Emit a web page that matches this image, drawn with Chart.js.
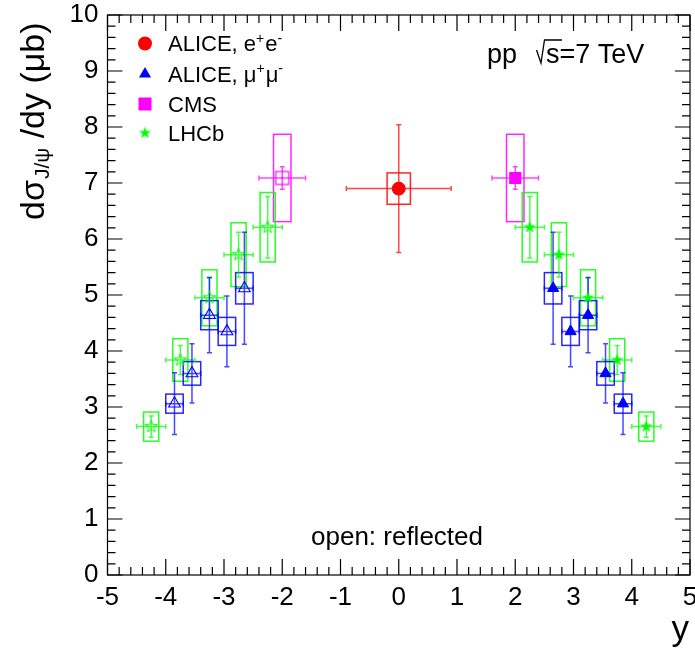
<!DOCTYPE html>
<html>
<head>
<meta charset="utf-8">
<script src="https://cdn.jsdelivr.net/npm/chart.js@4"></script>
<style>
html, body { margin: 0; padding: 0; background: #fff; }
#wrap { width: 695px; height: 652px; position: relative; }
</style>
</head>
<body>
<div id="wrap"><canvas id="jpsiChart"></canvas></div>
<script>
// values: rapidity, dsigma/dy (mub), stat, syst, half bin width
var aliceEeY = [0];
var aliceEeVal = [6.9];
var aliceEeStat = [1.14];
var aliceEeSyst = [0.28];
var aliceEeDy = [0.9];

var aliceMuY = [2.65, 2.95, 3.25, 3.55, 3.85];
var aliceMuVal = [5.12, 4.35, 4.64, 3.60, 3.06];
var aliceMuStat = [1.00, 0.63, 0.67, 0.53, 0.55];
var aliceMuSyst = [0.28, 0.25, 0.26, 0.21, 0.17];
var aliceMuDy = [0.15, 0.15, 0.15, 0.15, 0.15];

var cmsY = [2.0];
var cmsVal = [7.09];
var cmsStat = [0.20];
var cmsSyst = [0.78];
var cmsDy = [0.4];

var lhcbY = [2.25, 2.75, 3.25, 3.75, 4.25];
var lhcbVal = [6.21, 5.72, 4.95, 3.84, 2.65];
var lhcbStat = [0.55, 0.40, 0.37, 0.26, 0.19];
var lhcbSyst = [0.62, 0.57, 0.50, 0.38, 0.26];
var lhcbDy = [0.25, 0.25, 0.25, 0.25, 0.25];

var xTickLabels = [-5, -4, -3, -2, -1, 0, 1, 2, 3, 4, 5];
var yTickLabels = [0, 1, 2, 3, 4, 5, 6, 7, 8, 9, 10];

var FONT = '"Liberation Sans", Arial, sans-serif';
var RED = '255,0,0', BLUE = '0,0,255', MAG = '255,0,255', GREEN = '0,255,0';

function rgba(c, a) { return 'rgba(' + c + ',' + a + ')'; }

function pts(xs, vals, sign) {
    return xs.map(function (x, i) { return { x: sign * x, y: vals[i] }; });
}

// 5 point star marker as a small canvas
function starImage(c, filled, R) {
    var cv = document.createElement('canvas');
    var s = Math.ceil(R * 2 + 4);
    cv.width = s; cv.height = s;
    var g = cv.getContext('2d');
    var r = R * 0.4;
    g.beginPath();
    for (var k = 0; k < 10; k++) {
        var rad = k % 2 ? r : R;
        var a = -Math.PI / 2 + k * Math.PI / 5;
        var px = s / 2 + rad * Math.cos(a), py = s / 2 + rad * Math.sin(a);
        if (k) g.lineTo(px, py); else g.moveTo(px, py);
    }
    g.closePath();
    if (filled) { g.fillStyle = rgba(c, 1); g.fill(); }
    else { g.strokeStyle = rgba(c, 1); g.lineWidth = 1; g.stroke(); }
    return cv;
}

function openSquareImage(c) {
    var cv = document.createElement('canvas');
    cv.width = 17; cv.height = 17;
    var g = cv.getContext('2d');
    g.strokeStyle = rgba(c, 1);
    g.lineWidth = 1.2;
    g.strokeRect(2, 2, 13, 13);
    g.fillStyle = rgba(c, 1);
    g.fillRect(7.5, 7.5, 2, 2);
    return cv;
}

var starFull = starImage(GREEN, true, 6.5);
var starOpen = starImage(GREEN, false, 6.5);
var squareOpen = openSquareImage(MAG);

// series used for error bars and syst boxes
var series = [
    { x: aliceEeY, val: aliceEeVal, stat: aliceEeStat, syst: aliceEeSyst, dx: aliceEeDy, color: RED, box: 0.2, mirror: false },
    { x: cmsY, val: cmsVal, stat: cmsStat, syst: cmsSyst, dx: cmsDy, color: MAG, box: 0.15, mirror: true },
    { x: lhcbY, val: lhcbVal, stat: lhcbStat, syst: lhcbSyst, dx: lhcbDy, color: GREEN, box: 0.13, mirror: true },
    { x: aliceMuY, val: aliceMuVal, stat: aliceMuStat, syst: aliceMuSyst, dx: aliceMuDy, color: BLUE, box: 0.15, mirror: true }
];

var errorBoxes = {
    id: 'errorBoxes',
    beforeDatasetsDraw: function (chart) {
        var ctx = chart.ctx, xs = chart.scales.x, ys = chart.scales.y;
        ctx.save();
        // boxes first
        series.forEach(function (s) {
            (s.mirror ? [1, -1] : [1]).forEach(function (sg) {
                s.x.forEach(function (xv, i) {
                    var x = sg * xv;
                    var l = xs.getPixelForValue(x - s.box), r = xs.getPixelForValue(x + s.box);
                    var t = ys.getPixelForValue(s.val[i] + s.syst[i]), b = ys.getPixelForValue(s.val[i] - s.syst[i]);
                    ctx.strokeStyle = rgba(s.color, 0.85);
                    ctx.lineWidth = 1.5;
                    ctx.strokeRect(l, t, r - l, b - t);
                });
            });
        });
        // then stat errors with small end caps
        series.forEach(function (s) {
            (s.mirror ? [1, -1] : [1]).forEach(function (sg) {
                s.x.forEach(function (xv, i) {
                    var x = sg * xv;
                    var cx = xs.getPixelForValue(x), cy = ys.getPixelForValue(s.val[i]);
                    var l = xs.getPixelForValue(x - s.dx[i]), r = xs.getPixelForValue(x + s.dx[i]);
                    var t = ys.getPixelForValue(s.val[i] + s.stat[i]), b = ys.getPixelForValue(s.val[i] - s.stat[i]);
                    ctx.strokeStyle = rgba(s.color, 0.72);
                    ctx.lineWidth = 1.5;
                    ctx.beginPath();
                    ctx.moveTo(l, cy); ctx.lineTo(r, cy);
                    ctx.moveTo(cx, t); ctx.lineTo(cx, b);
                    ctx.moveTo(l, cy - 2.5); ctx.lineTo(l, cy + 2.5);
                    ctx.moveTo(r, cy - 2.5); ctx.lineTo(r, cy + 2.5);
                    ctx.moveTo(cx - 2.5, t); ctx.lineTo(cx + 2.5, t);
                    ctx.moveTo(cx - 2.5, b); ctx.lineTo(cx + 2.5, b);
                    ctx.stroke();
                });
            });
        });
        ctx.restore();
    }
};

function drawParts(ctx, parts, x, y, size) {
    parts.forEach(function (p) {
        var sup = p.charAt(0) === '^';
        var txt = sup ? p.slice(1) : p;
        ctx.font = (sup ? Math.round(size * 0.65) : size) + 'px ' + FONT;
        ctx.fillText(txt, x, sup ? y - size * 0.38 : y);
        x += ctx.measureText(txt).width + (sup ? 1 : 0);
    });
}

var legendRows = [
    ['ALICE, e', '^+', 'e', '^-'],
    ['ALICE, \u03bc', '^+', '\u03bc', '^-'],
    ['CMS'],
    ['LHCb']
];

var frameAndText = {
    id: 'frameAndText',
    afterDraw: function (chart) {
        var ctx = chart.ctx, a = chart.chartArea, xs = chart.scales.x, ys = chart.scales.y;
        ctx.save();
        ctx.strokeStyle = '#000';
        ctx.lineWidth = 1.2;
        ctx.strokeRect(a.left, a.top, a.right - a.left, a.bottom - a.top);
        ctx.beginPath();
        var k, v, p, len;
        for (k = 0; k <= (xs.max - xs.min) * 5; k++) {
            v = xs.min + k * 0.2;
            p = xs.getPixelForValue(v);
            len = k % 5 === 0 ? 16 : 8;
            ctx.moveTo(p, a.bottom); ctx.lineTo(p, a.bottom - len);
            ctx.moveTo(p, a.top); ctx.lineTo(p, a.top + len);
        }
        for (k = 0; k <= (ys.max - ys.min) * 5; k++) {
            v = ys.min + k * 0.2;
            p = ys.getPixelForValue(v);
            len = k % 5 === 0 ? 15 : 8;
            ctx.moveTo(a.left, p); ctx.lineTo(a.left + len, p);
            ctx.moveTo(a.right, p); ctx.lineTo(a.right - len, p);
        }
        ctx.stroke();

        ctx.fillStyle = '#000';
        ctx.textAlign = 'left';
        ctx.textBaseline = 'alphabetic';

        // y axis title
        ctx.save();
        ctx.translate(44, 220);
        ctx.rotate(-Math.PI / 2);
        var u = 0;
        ctx.font = '34px ' + FONT;
        ctx.fillText('d\u03c3', u, 0);
        u += ctx.measureText('d\u03c3').width + 1;
        ctx.font = '21px ' + FONT;
        ctx.fillText('J/\u03c8', u, 5);
        u += ctx.measureText('J/\u03c8').width;
        ctx.font = '34px ' + FONT;
        ctx.fillText(' /dy (\u03bcb)', u, 0);
        ctx.restore();

        // x axis title
        ctx.font = '35px ' + FONT;
        ctx.textAlign = 'right';
        ctx.fillText('y', a.right - 1, 640);
        ctx.textAlign = 'left';

        // energy label
        ctx.font = '27px ' + FONT;
        ctx.fillText('pp', 487, 63);
        ctx.lineWidth = 1.3;
        ctx.beginPath();
        ctx.moveTo(536.5, 50); ctx.lineTo(541, 63); ctx.lineTo(544.5, 40); ctx.lineTo(562, 40);
        ctx.stroke();
        ctx.fillText('s=7 TeV', 546, 63);

        ctx.textAlign = 'center';
        ctx.font = '26px ' + FONT;
        ctx.fillText('open: reflected', 397, 545);
        ctx.textAlign = 'left';

        // legend
        var rowsY = [43.5, 74, 104, 133];
        var mx = 145;
        ctx.fillStyle = rgba(RED, 1);
        ctx.beginPath(); ctx.arc(mx, rowsY[0], 7, 0, Math.PI * 2); ctx.fill();
        ctx.fillStyle = rgba(BLUE, 1);
        ctx.beginPath();
        ctx.moveTo(mx, rowsY[1] - 7); ctx.lineTo(mx + 6.1, rowsY[1] + 3.5); ctx.lineTo(mx - 6.1, rowsY[1] + 3.5);
        ctx.closePath(); ctx.fill();
        ctx.fillStyle = rgba(MAG, 1);
        ctx.fillRect(mx - 6.5, rowsY[2] - 6.5, 13, 13);
        ctx.drawImage(starFull, mx - starFull.width / 2, rowsY[3] - starFull.height / 2);

        ctx.fillStyle = '#000';
        legendRows.forEach(function (parts, i) {
            drawParts(ctx, parts, 168, rowsY[i] + 7.6, 22);
        });
        ctx.restore();
    }
};

var ctx = document.getElementById('jpsiChart').getContext('2d');
Chart.defaults.font.family = FONT;
var myChart = new Chart(ctx, {
    type: 'scatter',
    data: {
        datasets: [{
            label: 'ALICE, e+e-',
            data: pts(aliceEeY, aliceEeVal, 1),
            pointStyle: 'circle',
            pointRadius: 6.5,
            backgroundColor: rgba(RED, 1),
            borderColor: rgba(RED, 1),
            borderWidth: 1
        }, {
            label: 'ALICE, mu+mu-',
            data: pts(aliceMuY, aliceMuVal, 1),
            pointStyle: 'triangle',
            pointRadius: 6.5,
            backgroundColor: rgba(BLUE, 1),
            borderColor: rgba(BLUE, 1),
            borderWidth: 1
        }, {
            label: 'ALICE, mu+mu- reflected',
            data: pts(aliceMuY, aliceMuVal, -1),
            pointStyle: 'triangle',
            pointRadius: 6.8,
            backgroundColor: 'rgba(0,0,0,0)',
            borderColor: rgba(BLUE, 1),
            borderWidth: 1.1
        }, {
            label: 'CMS',
            data: pts(cmsY, cmsVal, 1),
            pointStyle: 'rect',
            pointRadius: 8.6,
            backgroundColor: rgba(MAG, 1),
            borderColor: rgba(MAG, 1),
            borderWidth: 0
        }, {
            label: 'CMS reflected',
            data: pts(cmsY, cmsVal, -1),
            pointStyle: squareOpen,
            pointRadius: 7
        }, {
            label: 'LHCb',
            data: pts(lhcbY, lhcbVal, 1),
            pointStyle: starFull,
            pointRadius: 7
        }, {
            label: 'LHCb reflected',
            data: pts(lhcbY, lhcbVal, -1),
            pointStyle: starOpen,
            pointRadius: 7
        }]
    },
    options: {
        responsive: true,
        maintainAspectRatio: false,
        animation: false,
        events: [],
        layout: { autoPadding: false, padding: { top: 15, right: 5, bottom: 0, left: 0 } },
        plugins: {
            legend: { display: false },
            tooltip: { enabled: false }
        },
        scales: {
            x: {
                type: 'linear',
                position: 'bottom',
                min: -5,
                max: 5,
                afterBuildTicks: function (s) { s.ticks = xTickLabels.map(function (v) { return { value: v }; }); },
                afterFit: function (s) { s.height = 77; s.paddingLeft = 0; s.paddingRight = 0; },
                grid: { display: false, drawTicks: false },
                border: { display: false },
                ticks: { autoSkip: false, maxRotation: 0, padding: 7, color: '#000', font: { size: 26 } }
            },
            y: {
                type: 'linear',
                min: 0,
                max: 10,
                afterBuildTicks: function (s) { s.ticks = yTickLabels.map(function (v) { return { value: v }; }); },
                afterFit: function (s) { s.width = 107.5; s.paddingTop = 0; s.paddingBottom = 0; },
                grid: { display: false, drawTicks: false },
                border: { display: false },
                ticks: { autoSkip: false, padding: 9, color: '#000', font: { size: 26 } }
            }
        }
    },
    plugins: [errorBoxes, frameAndText]
});
</script>
</body>
</html>
